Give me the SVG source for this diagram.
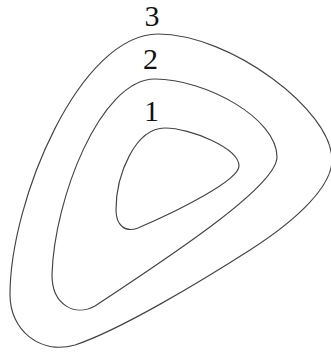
<svg xmlns="http://www.w3.org/2000/svg" width="331" height="352" viewBox="0 0 331 352">
<style>
.c{fill:none;stroke:#444;stroke-width:1.15}
.t{font-family:"Liberation Serif","Times New Roman",serif;font-size:30px;fill:#111;text-anchor:middle}
</style>
<rect width="331" height="352" fill="#fff"/>
<g id="contour3">
<path class="c" d="M158,34 C230,34 332,110 332,160 C332,185 300,218 250,250 C200,282 120,330 75,345 C40,355 10,330 10,295 C10,200 80,34 158,34 Z"/>
<text class="t" x="152" y="26">3</text>
</g>
<g id="contour2">
<path class="c" d="M155,79 C205,79 277,118 277,157 C277,185 180,250 95,306 C75,317 52,305 52,275 C54,200 100,79 155,79 Z"/>
<text class="t" x="150.5" y="69">2</text>
</g>
<g id="contour1">
<path class="c" d="M165,128 C190,128 239,148 239,166 C239,180 180,210 138,228 C125,233 116,225 116,210 C116,175 135,128 165,128 Z"/>
<text class="t" x="151.5" y="121">1</text>
</g>
</svg>
